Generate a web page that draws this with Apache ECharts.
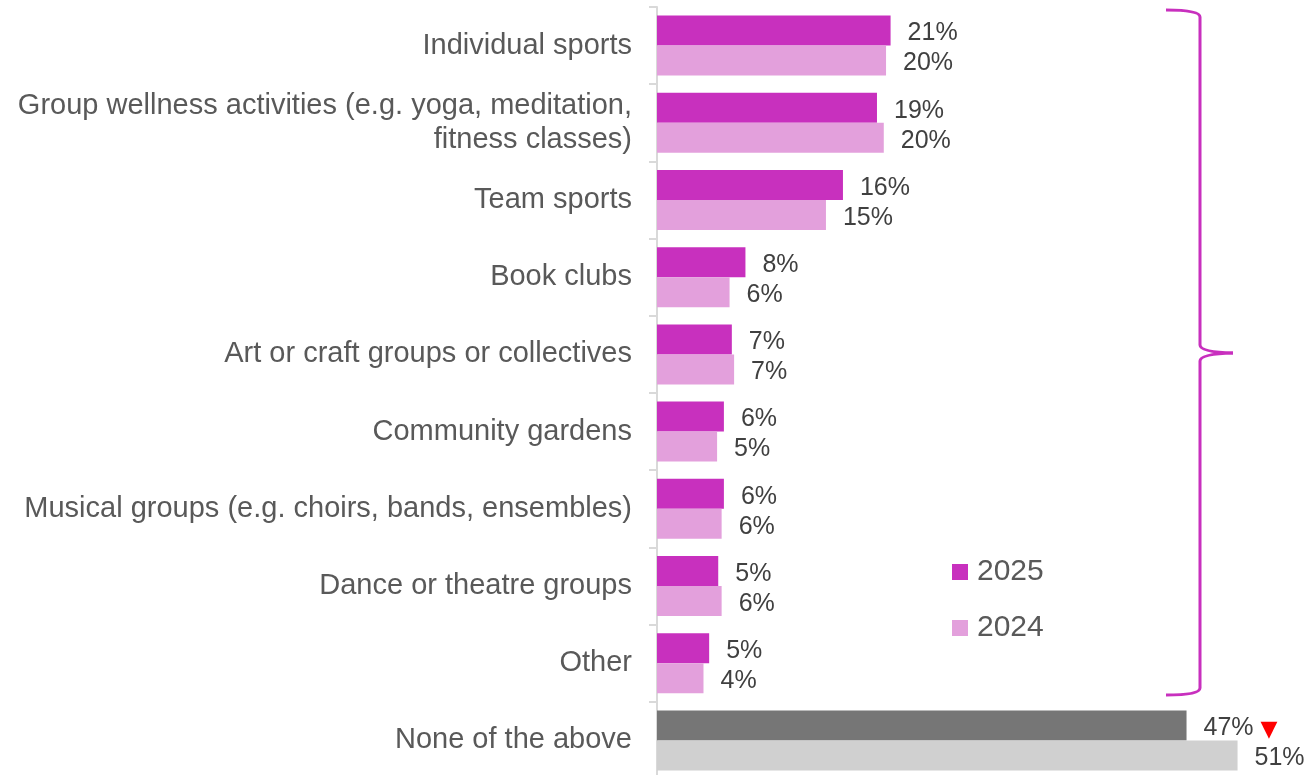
<!DOCTYPE html>
<html><head><meta charset="utf-8">
<script src="https://cdn.jsdelivr.net/npm/echarts@6/dist/echarts.min.js"></script>
<style>html,body{margin:0;padding:0;background:#fff;overflow:hidden}#c{width:1309px;height:775px}</style>
</head><body><div id="c"></div>
<script>
const categories = [
  'Individual sports',
  'Group wellness activities (e.g. yoga, meditation,\nfitness classes)',
  'Team sports',
  'Book clubs',
  'Art or craft groups or collectives',
  'Community gardens',
  'Musical groups (e.g. choirs, bands, ensembles)',
  'Dance or theatre groups',
  'Other',
  'None of the above'
];
const seriesNames = ['2025', '2024'];
const values2025 = [20.6, 19.4, 16.4, 7.8, 6.6, 5.9, 5.9, 5.4, 4.6, 46.7];
const values2024 = [20.2, 20.0, 14.9, 6.4, 6.8, 5.3, 5.7, 5.7, 4.1, 51.2];
const sigDown2025 = [false, false, false, false, false, false, false, false, false, true];
const highlightIndex = 9; // "None of the above" drawn in grey

const C2025 = '#C830BE', C2024 = '#E3A0DC', G2025 = '#767676', G2024 = '#D0D0D0';
const FONT = '"Liberation Sans", Arial, sans-serif';

function buildData(vals, grey) {
  return vals.map((v, i) => i === highlightIndex ? { value: v, itemStyle: { color: grey } } : v);
}

const labelBase = {
  show: true, position: 'right', distance: 17, offset: [0, 3],
  fontFamily: FONT, fontSize: 25, color: '#404040'
};

const braceStyle = { fill: null, stroke: C2025, lineWidth: 3 };
function curve(x1, y1, cx, cy, x2, y2) {
  return { type: 'bezierCurve', silent: true, shape: { x1, y1, cpx1: cx, cpy1: cy, x2, y2 }, style: braceStyle };
}
function seg(x1, y1, x2, y2) {
  return { type: 'line', silent: true, shape: { x1, y1, x2, y2 }, style: braceStyle };
}

const chart = echarts.init(document.getElementById('c'), null, { renderer: 'canvas' });
chart.setOption({
  animation: false,
  backgroundColor: '#fff',
  grid: { left: 657, right: 0, top: 7, height: 772, containLabel: false, outerBoundsMode: 'none' },
  xAxis: { type: 'value', min: 0, max: 57.5, show: false },
  yAxis: {
    type: 'category', inverse: true, data: categories,
    axisLine: { show: true, lineStyle: { color: '#D9D9D9', width: 2 } },
    axisTick: { show: true, length: 8, lineStyle: { color: '#D9D9D9', width: 2 } },
    axisLabel: { fontFamily: FONT, fontSize: 29, color: '#595959', margin: 25, lineHeight: 34, align: 'right' },
    splitLine: { show: false }
  },
  legend: {
    data: seriesNames, orient: 'vertical', left: 952, top: 557, icon: 'rect',
    itemWidth: 16, itemHeight: 16, itemGap: 26, padding: 0,
    textStyle: { fontFamily: FONT, fontSize: 30, color: '#595959', padding: [0, 0, 0, 4], lineHeight: 30 }
  },
  series: [
    {
      name: seriesNames[0], type: 'bar', barWidth: 30, barGap: '0%',
      itemStyle: { color: C2025 },
      data: buildData(values2025, G2025),
      label: Object.assign({}, labelBase, {
        formatter: p => '{v|' + Math.round(p.value) + '%}' + (sigDown2025[p.dataIndex] ? '{t|▼}' : ''),
        rich: {
          v: { fontFamily: FONT, fontSize: 25, color: '#404040' },
          t: { fontFamily: 'DejaVu Sans', fontSize: 22, color: '#FF0000', padding: [4, 0, 0, 7] }
        }
      })
    },
    {
      name: seriesNames[1], type: 'bar', barWidth: 30, barGap: '0%',
      itemStyle: { color: C2024 },
      data: buildData(values2024, G2024),
      label: Object.assign({}, labelBase, { formatter: p => Math.round(p.value) + '%' })
    }
  ],
  graphic: [
    curve(1166, 10, 1200, 10, 1200, 17),
    seg(1200, 17, 1200, 345),
    curve(1200, 345, 1200, 352, 1233, 353),
    curve(1233, 353, 1200, 354, 1200, 361),
    seg(1200, 361, 1200, 688),
    curve(1200, 688, 1200, 695, 1166, 695)
  ]
});
</script></body></html>
